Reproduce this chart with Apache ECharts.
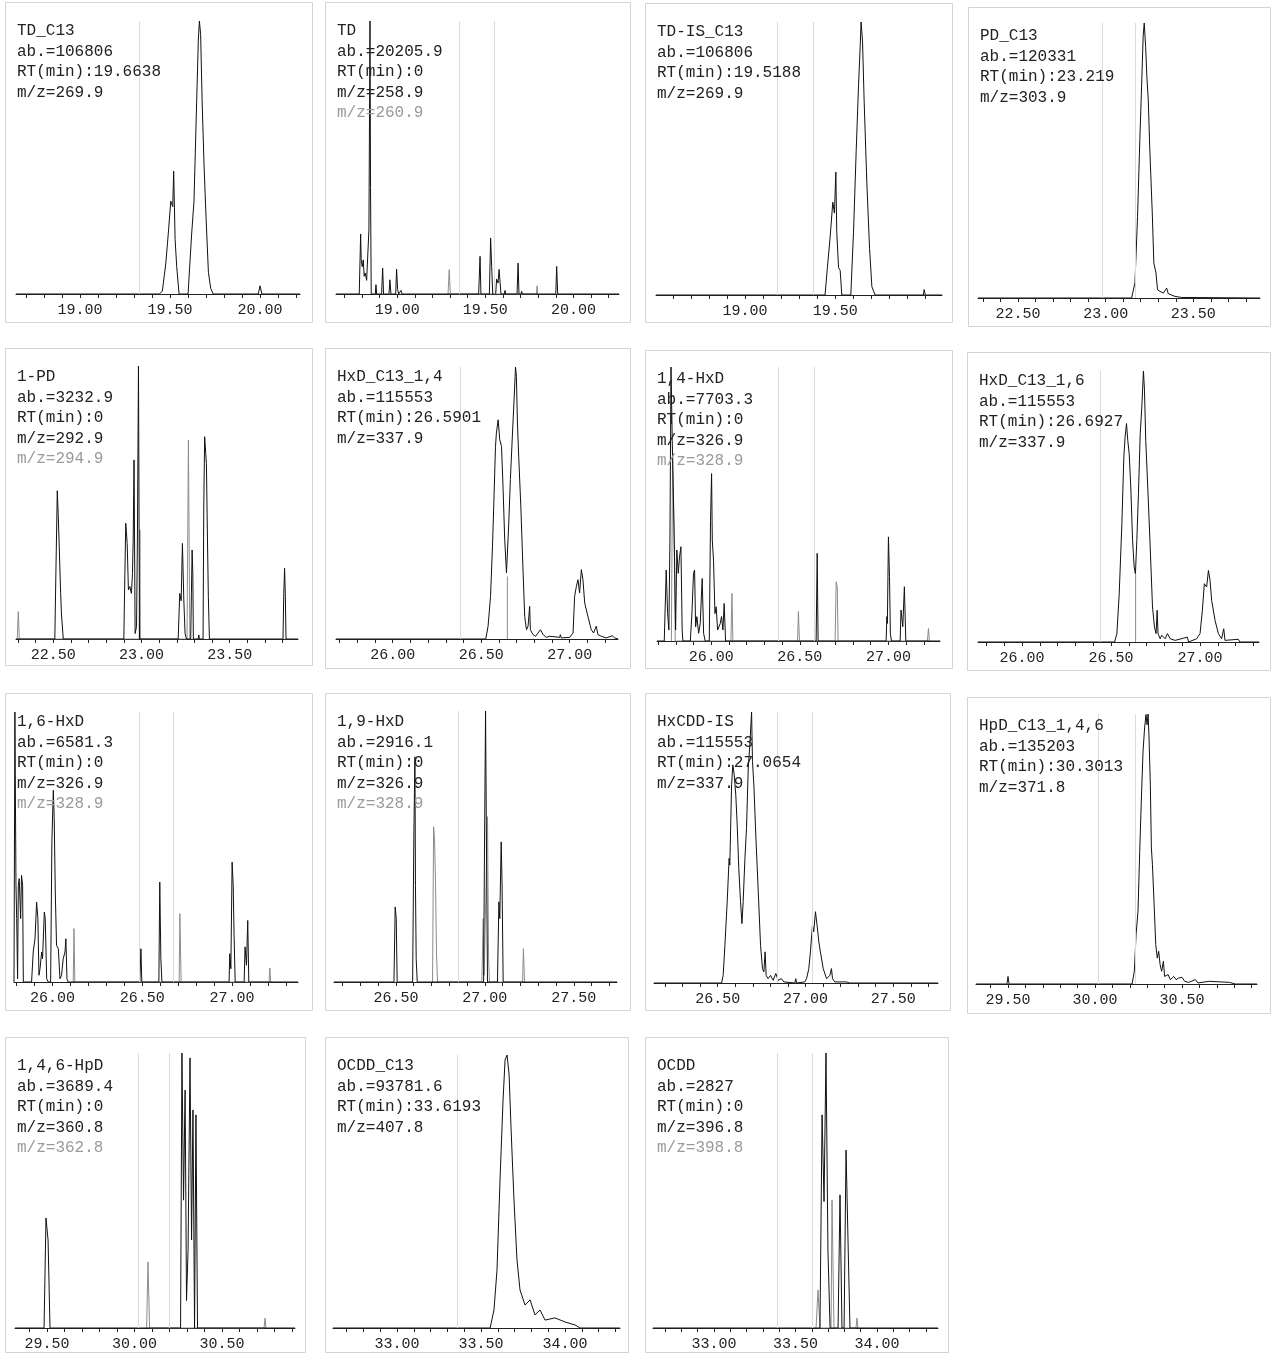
<!DOCTYPE html>
<html>
<head>
<meta charset="utf-8">
<script src="https://cdn.jsdelivr.net/npm/echarts@6/dist/echarts.min.js"></script>
<style>
html, body { margin: 0; padding: 0; background: #fff; }
#chart { width: 1273px; height: 1355px; }
</style>
</head>
<body>
<div id="chart"></div>
<script>
// header text of each panel
var panelNames = ['TD_C13', 'TD', 'TD-IS_C13', 'PD_C13', '1-PD', 'HxD_C13_1,4', '1,4-HxD', 'HxD_C13_1,6',
	'1,6-HxD', '1,9-HxD', 'HxCDD-IS', 'HpD_C13_1,4,6', '1,4,6-HpD', 'OCDD_C13', 'OCDD'];
var abundances = ['106806', '20205.9', '106806', '120331', '3232.9', '115553', '7703.3', '115553',
	'6581.3', '2916.1', '115553', '135203', '3689.4', '93781.6', '2827'];
var retentionTimes = ['19.6638', '0', '19.5188', '23.219', '0', '26.5901', '0', '26.6927',
	'0', '0', '27.0654', '30.3013', '0', '33.6193', '0'];
var mzPrimary = ['269.9', '258.9', '269.9', '303.9', '292.9', '337.9', '326.9', '337.9',
	'326.9', '326.9', '337.9', '371.8', '360.8', '407.8', '396.8'];
var mzSecondary = [null, '260.9', null, null, '294.9', null, '328.9', null,
	'328.9', '328.9', null, null, '362.8', null, '398.8'];

// x axis range (min) and labelled ticks
var axisRanges = [[18.644, 20.222], [18.652, 20.259], [18.506, 20.093], [22.271, 23.881],
	[22.289, 23.887], [25.68, 27.273], [25.694, 27.291], [25.753, 27.331],
	[25.785, 27.367], [26.152, 27.743], [26.137, 27.755], [29.316, 30.931],
	[29.317, 30.917], [32.619, 34.327], [32.626, 34.374]];
var labelTicks = [[19, 19.5, 20], [19, 19.5, 20], [19, 19.5], [22.5, 23, 23.5],
	[22.5, 23, 23.5], [26, 26.5, 27], [26, 26.5, 27], [26, 26.5, 27],
	[26, 26.5, 27], [26.5, 27, 27.5], [26.5, 27, 27.5], [29.5, 30, 30.5],
	[29.5, 30, 30.5], [33, 33.5, 34], [33, 33.5, 34]];
// faint integration window lines
var windowLines = [[19.333], [19.352, 19.545], [19.185, 19.38], [22.976, 23.172],
	[], [26.376], [26.38, 26.577], [26.436],
	[26.477, 26.672], [26.85], [26.844, 27.044], [30.025, 30.228],
	[30.02, 30.2], [33.36], [33.39, 33.6]];

// traces: [RT (min), relative abundance %]
var tdC13 = [[18.644, 0], [19.44, 0], [19.457, 1], [19.476, 11], [19.49, 22], [19.504, 34], [19.515, 32], [19.52, 45],
	[19.528, 20], [19.537, 10], [19.55, 0], [19.6, 0], [19.62, 22], [19.633, 34], [19.648, 71], [19.657, 93],
	[19.663, 100], [19.67, 95], [19.678, 71], [19.689, 47], [19.7, 28], [19.713, 8], [19.726, 2], [19.74, 0],
	[19.99, 0], [20.0, 3], [20.01, 0], [20.222, 0]];
var td = [[18.652, 0], [18.784, 0], [18.792, 22], [18.795, 12.5], [18.801, 10], [18.807, 12.5], [18.812, 6.5],
	[18.818, 7.7], [18.826, 5], [18.833, 15], [18.839, 23.5], [18.845, 100], [18.848, 39], [18.852, 0],
	[18.875, 0], [18.879, 3.4], [18.883, 0], [18.911, 0], [18.917, 9.5], [18.922, 0], [18.953, 0], [18.958, 5.2],
	[18.964, 0], [18.991, 0], [18.996, 9.1], [19.002, 1.6], [19.008, 0], [19.021, 1.3], [19.027, 0],
	[19.462, 0], [19.47, 13.8], [19.475, 0], [19.523, 0], [19.53, 20.5], [19.536, 10], [19.542, 0],
	[19.559, 0], [19.564, 5.5], [19.572, 4], [19.578, 9], [19.583, 9.1], [19.589, 0], [19.608, 0], [19.612, 1.3],
	[19.616, 0], [19.68, 0], [19.686, 11.3], [19.691, 0], [19.703, 0], [19.706, 1], [19.71, 0],
	[19.9, 0], [19.905, 10.1], [19.911, 0], [20.259, 0]];
var tdGray = [[19.288, 0], [19.295, 8.9], [19.301, 0], [19.79, 0], [19.794, 3], [19.797, 0]];
var tdIsC13 = [[18.506, 0], [19.444, 0], [19.457, 10], [19.472, 21], [19.487, 34], [19.496, 30], [19.504, 45],
	[19.509, 23], [19.519, 10], [19.528, 9], [19.537, 0], [19.587, 0], [19.602, 23], [19.617, 53], [19.63, 77],
	[19.639, 91], [19.644, 100], [19.652, 93], [19.661, 71], [19.676, 41], [19.691, 17], [19.704, 3],
	[19.722, 0], [19.99, 0], [19.994, 2], [20.0, 0], [20.093, 0]];
var pdC13 = [[22.271, 0], [23.148, 0], [23.167, 5.5], [23.182, 29.7], [23.195, 57.6], [23.205, 77], [23.214, 95.2],
	[23.22, 100], [23.228, 91.5], [23.235, 80.6], [23.243, 72.1], [23.252, 53.9], [23.266, 30.9], [23.275, 12.7],
	[23.287, 9.1], [23.296, 3], [23.31, 2.4], [23.329, 1.8], [23.348, 3.6], [23.357, 1.6], [23.395, 0.6],
	[23.433, 0.2], [23.881, 0]];
var pd1 = [[22.289, 0], [22.509, 0], [22.515, 24], [22.523, 54.3], [22.528, 46], [22.534, 33.8], [22.542, 16.7],
	[22.547, 8.8], [22.557, 0], [22.9, 0], [22.906, 24], [22.911, 42.4], [22.919, 35], [22.926, 18], [22.934, 19.2],
	[22.943, 16.7], [22.949, 24], [22.953, 36.3], [22.958, 65.6], [22.964, 2], [22.972, 4.5], [22.977, 36.3],
	[22.983, 100], [22.989, 0], [23.208, 0], [23.217, 16.7], [23.225, 14], [23.232, 35], [23.24, 14.3],
	[23.247, 2], [23.255, 0], [23.279, 0], [23.283, 16.7], [23.287, 32.6], [23.291, 24], [23.294, 0],
	[23.321, 0], [23.325, 1.5], [23.328, 0], [23.349, 0], [23.353, 48], [23.358, 74.1], [23.364, 68],
	[23.368, 64.3], [23.374, 36.3], [23.379, 15.5], [23.385, 0], [23.802, 0], [23.806, 15.5], [23.811, 25.9],
	[23.815, 16.7], [23.819, 0], [23.887, 0]];
var pd1Gray = [[22.296, 0], [22.302, 10], [22.308, 0], [22.987, 0], [22.991, 40], [22.994, 0],
	[23.258, 0], [23.266, 72.9], [23.274, 0]];
var hxdC13a = [[25.68, 0], [26.526, 0], [26.539, 4.7], [26.553, 15.7], [26.564, 34.1], [26.571, 48.8], [26.581, 70.8],
	[26.586, 75.7], [26.596, 80.6], [26.605, 73.3], [26.615, 70.8], [26.624, 54.9], [26.633, 36.5], [26.643, 24.3],
	[26.656, 42.6], [26.665, 58.6], [26.677, 75.7], [26.686, 88], [26.694, 100], [26.699, 96.6], [26.705, 79.4],
	[26.712, 67.2], [26.724, 48.8], [26.737, 24.3], [26.746, 8.3], [26.756, 3.4], [26.765, 4.7], [26.774, 12],
	[26.778, 3.4], [26.793, 1.6], [26.808, 1], [26.821, 2.2], [26.835, 3.4], [26.85, 1.6], [26.868, 0.6],
	[26.887, 1], [26.944, 0.6], [26.947, 1.6], [26.953, 0.4], [27.0, 0.6], [27.019, 2.2], [27.028, 15.7],
	[27.038, 19.4], [27.047, 21.8], [27.056, 16.9], [27.066, 25.5], [27.075, 21.8], [27.085, 13.2],
	[27.103, 8.3], [27.122, 3.4], [27.135, 2.2], [27.15, 4.7], [27.16, 1.6], [27.179, 1], [27.207, 0.4],
	[27.241, 1.2], [27.254, 0.4], [27.273, 0]];
var hxdC13aSplit = [[26.648, 0], [26.648, 23]];
var hxd14 = [[25.694, 0], [25.735, 0], [25.746, 25.9], [25.754, 10], [25.761, 4], [25.767, 36.8], [25.773, 100],
	[25.78, 73.3], [25.788, 47.8], [25.793, 30.7], [25.799, 4], [25.806, 33.2], [25.814, 24.7], [25.821, 30.7],
	[25.829, 34.4], [25.836, 4], [25.84, 0], [25.882, 0], [25.891, 10], [25.9, 24.7], [25.906, 25.9],
	[25.912, 5.2], [25.919, 8.9], [25.929, 2.8], [25.938, 6.4], [25.949, 22.8], [25.957, 2.8], [25.966, 0],
	[25.989, 0], [25.996, 44.1], [26.002, 61.1], [26.006, 36.8], [26.013, 29.5], [26.021, 10], [26.028, 12.5],
	[26.036, 4], [26.051, 6.4], [26.058, 8.9], [26.066, 4], [26.073, 13.7], [26.081, 0], [26.592, 0],
	[26.598, 32], [26.603, 0], [26.987, 0], [26.991, 8.9], [26.994, 6.4], [27.0, 38], [27.006, 23.5],
	[27.011, 2.8], [27.017, 0], [27.066, 0], [27.071, 11.3], [27.081, 5.2], [27.09, 19.8], [27.098, 0],
	[27.291, 0]];
var hxd14Gray = [[25.775, 0], [25.782, 67.2], [25.79, 41.7], [25.797, 0], [26.111, 0], [26.117, 17.4], [26.122, 0],
	[26.487, 0], [26.492, 10.7], [26.498, 0], [26.699, 0], [26.705, 21.6], [26.711, 19.8], [26.716, 0],
	[27.22, 0], [27.226, 4.6], [27.231, 0]];
var hxdC13b = [[25.753, 0], [26.52, 0], [26.533, 3.1], [26.546, 17.8], [26.561, 43.7], [26.572, 68.3], [26.579, 75.6],
	[26.587, 80.6], [26.594, 74.4], [26.602, 69.5], [26.611, 57.2], [26.621, 37.5], [26.63, 27.7], [26.637, 25.2],
	[26.645, 37.5], [26.654, 54.7], [26.664, 76.9], [26.673, 86.7], [26.682, 100], [26.688, 92.9], [26.695, 74.4],
	[26.707, 56], [26.72, 35.1], [26.733, 12.9], [26.744, 5.5], [26.753, 3.1], [26.759, 11.7], [26.764, 3.1],
	[26.776, 1.2], [26.785, 2.5], [26.804, 1.2], [26.817, 3.1], [26.832, 1.2], [26.86, 0.6], [26.929, 1.8],
	[26.935, 0], [26.981, 1.2], [27.0, 3.1], [27.013, 11.7], [27.024, 21.5], [27.037, 20.3], [27.047, 26.4],
	[27.056, 22.8], [27.065, 15.4], [27.084, 8], [27.103, 3.1], [27.121, 1.2], [27.133, 4.9], [27.14, 0.6],
	[27.215, 1], [27.224, 0], [27.331, 0]];
var hxdC13bSplit = [[26.638, 0], [26.638, 25]];
var hxd16 = [[25.785, 0], [25.787, 0], [25.79, 100], [25.796, 35.8], [25.8, 23.5], [25.805, 1.2], [25.809, 35.8],
	[25.814, 38.3], [25.822, 23.5], [25.827, 39.5], [25.833, 35.8], [25.837, 0], [25.883, 0], [25.892, 11.1],
	[25.902, 16], [25.911, 29.6], [25.918, 23.5], [25.924, 2.5], [25.93, 4.9], [25.939, 11.1], [25.944, 8.6],
	[25.954, 25.9], [25.959, 23.5], [25.967, 1.2], [25.976, 0], [25.989, 0], [25.996, 51.9], [26.004, 71],
	[26.009, 60.5], [26.015, 33.3], [26.022, 13.6], [26.032, 12.3], [26.041, 1.2], [26.05, 2.5], [26.059, 8.6],
	[26.069, 11.1], [26.074, 16], [26.08, 1.2], [26.087, 0], [26.486, 0], [26.492, 12.3], [26.497, 0],
	[26.592, 0], [26.597, 37], [26.603, 8.6], [26.609, 0], [26.983, 0], [26.987, 10.5], [26.993, 4.9],
	[27.0, 44.4], [27.006, 35.8], [27.011, 17.3], [27.017, 0], [27.067, 0], [27.072, 13], [27.08, 6.2],
	[27.087, 22.8], [27.093, 0], [27.367, 0]];
var hxd16Gray = [[26.115, 0], [26.119, 19.8], [26.124, 0], [26.705, 0], [26.709, 25.3], [26.716, 0],
	[27.206, 0], [27.21, 5.2], [27.215, 0]];
var hxd19 = [[26.152, 0], [26.489, 0], [26.496, 27.7], [26.502, 23.4], [26.507, 0], [26.594, 0], [26.601, 54.2],
	[26.607, 83.1], [26.61, 35.7], [26.614, 8.6], [26.62, 0], [26.993, 0], [26.998, 48], [27.004, 100],
	[27.009, 51.7], [27.015, 0], [27.071, 0], [27.079, 29.6], [27.084, 23.4], [27.092, 51.7], [27.097, 35.7],
	[27.103, 0], [27.743, 0]];
var hxd19Gray = [[26.706, 0], [26.712, 57.3], [26.717, 53], [26.723, 35.7], [26.728, 11.1], [26.734, 0],
	[26.983, 0], [26.991, 23.4], [26.996, 2.5], [27.015, 61], [27.021, 8.6], [27.026, 0],
	[27.212, 0], [27.217, 12.3], [27.223, 0]];
var hxcddIs = [[26.137, 0], [26.522, 0], [26.531, 2.8], [26.541, 13.9], [26.554, 30], [26.565, 46], [26.569, 43.5],
	[26.579, 73.1], [26.586, 80.5], [26.594, 76.8], [26.603, 69.4], [26.611, 58.3], [26.62, 42.3], [26.63, 30],
	[26.638, 21.9], [26.645, 30], [26.655, 46], [26.664, 57.1], [26.674, 79.3], [26.683, 87.9], [26.693, 100],
	[26.698, 81.8], [26.706, 73.1], [26.717, 54.6], [26.731, 33.7], [26.744, 13.9], [26.755, 5.3], [26.763, 4.1],
	[26.77, 11.5], [26.776, 2.8], [26.787, 1.6], [26.801, 2.8], [26.816, 1], [26.831, 3.5], [26.844, 1],
	[26.863, 1.6], [26.877, 0.4], [26.939, 0], [26.945, 1.6], [26.949, 0], [26.996, 0.4], [27.006, 1.6],
	[27.019, 5.3], [27.028, 11.5], [27.04, 21.3], [27.047, 18.9], [27.057, 26.3], [27.066, 21.3], [27.076, 15.2],
	[27.085, 11.5], [27.101, 5.3], [27.12, 1.6], [27.139, 2.8], [27.148, 5.3], [27.154, 1.6], [27.167, 0.4],
	[27.233, 0.4], [27.239, 1], [27.252, 0], [27.755, 0]];
var hpdC13 = [[29.316, 0], [29.494, 0], [29.5, 2.8], [29.506, 0], [30.213, 0], [30.226, 4.7], [30.236, 18.3],
	[30.247, 26.9], [30.257, 49.1], [30.266, 67.7], [30.276, 86.2], [30.285, 94.8], [30.293, 99.8], [30.299, 96],
	[30.305, 100], [30.31, 92.3], [30.318, 73.8], [30.324, 50.4], [30.33, 44.2], [30.339, 30.6], [30.349, 14.6],
	[30.358, 9.6], [30.366, 12.1], [30.374, 7.2], [30.383, 4.7], [30.393, 8.4], [30.4, 2.8], [30.41, 2.2],
	[30.42, 3.5], [30.433, 1.6], [30.452, 2.8], [30.466, 1.6], [30.481, 2.2], [30.5, 2.5], [30.515, 1],
	[30.538, 0.6], [30.577, 1.6], [30.592, 0.4], [30.657, 1], [30.772, 0.6], [30.807, 0], [30.931, 0]];
var hpd146 = [[29.317, 0], [29.483, 0], [29.494, 40], [29.506, 32], [29.517, 0], [30.263, 0], [30.271, 100],
	[30.28, 46.5], [30.289, 86.5], [30.297, 10], [30.306, 28.4], [30.317, 98.2], [30.326, 32], [30.334, 79.3],
	[30.343, 0], [30.351, 77.5], [30.36, 0], [30.917, 0]];
var hpd146Gray = [[30.069, 0], [30.077, 24], [30.086, 0], [30.74, 0], [30.746, 3.6], [30.751, 0]];
var ocddC13 = [[32.619, 0], [33.554, 0], [33.577, 6.6], [33.595, 21.2], [33.613, 54.2], [33.631, 83.5], [33.643, 98.2],
	[33.655, 100], [33.667, 92.7], [33.679, 72.5], [33.696, 46.9], [33.714, 24.9], [33.732, 13.9], [33.762, 8.4],
	[33.792, 10.3], [33.821, 4.8], [33.851, 6.6], [33.881, 2.9], [33.94, 3.7], [34.0, 2.2], [34.06, 1.1],
	[34.089, 0], [34.327, 0]];
var ocdd = [[32.626, 0], [33.65, 0], [33.663, 77.5], [33.675, 46], [33.687, 100], [33.699, 28.4], [33.712, 0],
	[33.761, 0], [33.773, 48.4], [33.785, 0], [33.798, 0], [33.81, 64.7], [33.822, 32], [33.834, 0], [34.374, 0]];
var ocddGray = [[33.626, 0], [33.638, 13.8], [33.65, 0], [33.718, 0], [33.724, 46.5], [33.736, 0],
	[33.871, 0], [33.877, 3.6], [33.883, 0]];

var mainTraces = [tdC13, td, tdIsC13, pdC13, pd1, hxdC13a, hxd14, hxdC13b, hxd16, hxd19, hxcddIs, hpdC13, hpd146, ocddC13, ocdd];
var grayTraces = [[], tdGray, [], [], pd1Gray, hxdC13aSplit, hxd14Gray, hxdC13bSplit, hxd16Gray, hxd19Gray, [], [], hpd146Gray, [], ocddGray];

// layout: outer frame [x, y, w, h] and plot area [left, top, right, bottom] in px
var frames = [[5, 2, 307, 320], [325, 2, 305, 320], [645, 3, 307, 319], [968, 7, 302, 319],
	[5, 348, 307, 317], [325, 348, 305, 320], [645, 350, 307, 318], [967, 352, 303, 318],
	[5, 693, 307, 317], [325, 693, 305, 317], [645, 693, 305, 317], [967, 697, 303, 316],
	[5, 1037, 300, 315], [325, 1037, 303, 315], [645, 1037, 303, 315]];
var plots = [[16, 21, 300, 294], [336, 21, 619, 294], [656, 22, 942, 295], [978, 23, 1260, 298],
	[16, 366, 298, 639], [336, 367, 618, 639], [657, 367, 940, 641], [978, 371, 1259, 642],
	[14, 712, 298, 982], [334, 711, 617, 982], [654, 712, 938, 983], [976, 714, 1257, 984],
	[15, 1053, 295, 1328], [333, 1055, 620, 1328], [653, 1053, 938, 1328]];

var monoFont = '"Liberation Mono", "DejaVu Sans Mono", monospace';

function minorTicks(range) {
	var list = [];
	for (var k = Math.ceil(range[0] * 10); k <= Math.floor(range[1] * 10); k++) {
		list.push(k / 10);
	}
	return list;
}

var myChart = echarts.init(document.getElementById('chart'));
var grids = [], xAxes = [], yAxes = [], series = [], graphics = [];

panelNames.forEach(function(name, i) {
	var p = plots[i], f = frames[i];
	grids.push({ left: p[0], top: p[1], width: p[2] - p[0], height: p[3] - p[1] });
	xAxes.push({
		type: 'value', gridIndex: i,
		min: axisRanges[i][0], max: axisRanges[i][1],
		splitLine: { show: false },
		axisLine: { show: true, onZero: false, lineStyle: { color: '#222', width: 1 } },
		axisTick: { show: true, customValues: minorTicks(axisRanges[i]), length: 4, lineStyle: { color: '#222' } },
		axisLabel: {
			customValues: labelTicks[i], margin: 9, color: '#222',
			fontFamily: monoFont, fontSize: 15,
			formatter: function(v) { return Number(v).toFixed(2); }
		}
	});
	yAxes.push({ type: 'value', gridIndex: i, min: 0, max: 100, show: false });
	series.push({
		type: 'line', xAxisIndex: i, yAxisIndex: i,
		data: mainTraces[i], showSymbol: false, symbol: 'none',
		lineStyle: { color: '#111', width: 1 }, animation: false, z: 3,
		markLine: {
			silent: true, symbol: 'none', animation: false,
			label: { show: false },
			lineStyle: { color: '#dcdcdc', width: 1, type: 'solid' },
			data: windowLines[i].map(function(v) { return { xAxis: v }; })
		}
	});
	if (grayTraces[i].length) {
		series.push({
			type: 'line', xAxisIndex: i, yAxisIndex: i,
			data: grayTraces[i], showSymbol: false, symbol: 'none',
			lineStyle: { color: '#8c8c8c', width: 1 }, animation: false, z: 2
		});
	}
	// frame
	graphics.push({
		type: 'rect', shape: { x: f[0] + 0.5, y: f[1] + 0.5, width: f[2], height: f[3] },
		style: { fill: 'none', stroke: '#d4d4d4', lineWidth: 1 }, silent: true, z: 1
	});
	// header lines
	var lines = [name, 'ab.=' + abundances[i], 'RT(min):' + retentionTimes[i], 'm/z=' + mzPrimary[i]];
	if (mzSecondary[i]) lines.push('m/z=' + mzSecondary[i]);
	lines.forEach(function(t, j) {
		graphics.push({
			type: 'text', silent: true, z: 10,
			x: f[0] + 12, y: f[1] + 29 + j * 20.5,
			style: {
				text: t, fill: j === 4 ? '#9a9a9a' : '#222',
				font: '16px ' + monoFont, verticalAlign: 'middle', align: 'left'
			}
		});
	});
});

var option = {
	animation: false,
	backgroundColor: '#fff',
	grid: grids,
	xAxis: xAxes,
	yAxis: yAxes,
	series: series,
	graphic: graphics
};

myChart.setOption(option);
</script>
</body>
</html>
